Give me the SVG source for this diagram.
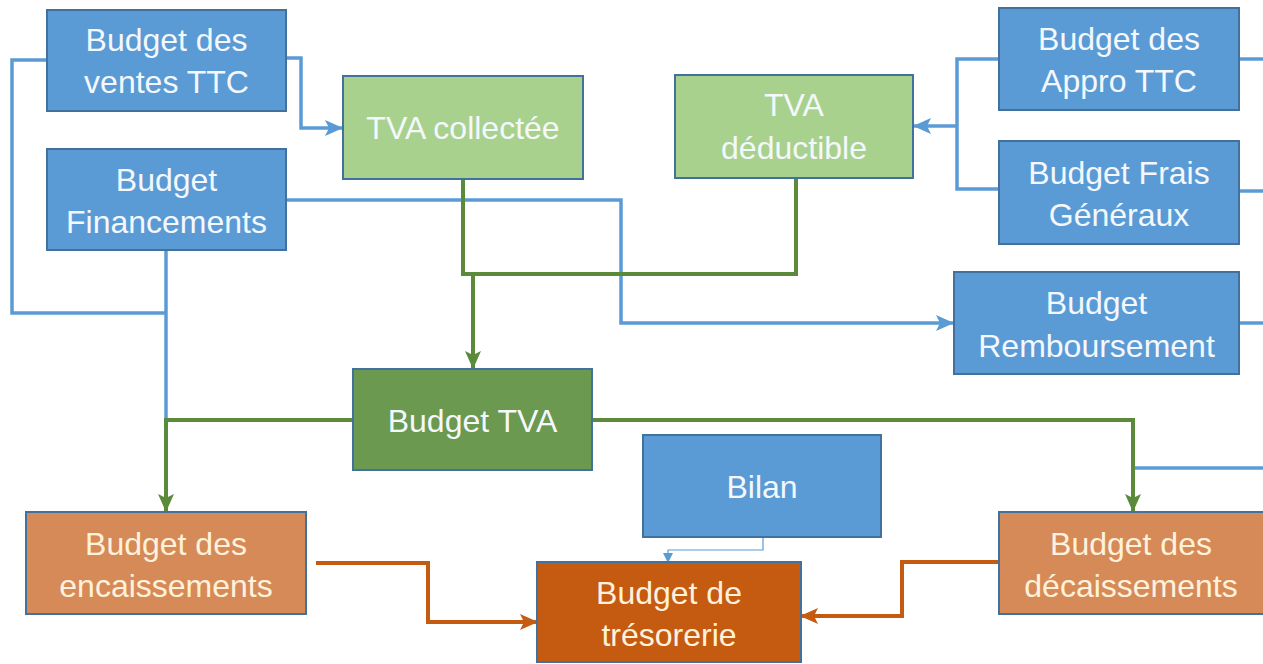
<svg xmlns="http://www.w3.org/2000/svg" width="1263" height="664" viewBox="0 0 1263 664">
  <defs>
    <style>
      .node rect { stroke: #41719C; stroke-width: 2; }
      .blue rect { fill: #5B9BD5; }
      .lgreen rect { fill: #A9D18E; }
      .dgreen rect { fill: #6A994F; }
      .lorange rect { fill: #D68A58; }
      .dorange rect { fill: #C55A11; }
      .node text { font-family: "Liberation Sans", Arial, sans-serif; font-size: 32px; text-anchor: middle; fill: #F4F8FC; }
      .lorange text, .dorange text { fill: #FFF2DC; }
      .c-blue { fill: none; stroke: #5B9BD5; stroke-width: 3.5; }
      .c-green { fill: none; stroke: #5A8A3A; stroke-width: 4; }
      .c-orange { fill: none; stroke: #C55A11; stroke-width: 4; }
      .c-thin { fill: none; stroke: #5B9BD5; stroke-width: 1.2; }
    </style>
    <marker id="ab" markerUnits="userSpaceOnUse" markerWidth="18" markerHeight="18" viewBox="0 0 18 18" refX="17" refY="9" orient="auto">
      <path d="M0,1 L18,9 L0,17 L4,9 Z" fill="#5B9BD5"/>
    </marker>
    <marker id="ag" markerUnits="userSpaceOnUse" markerWidth="18" markerHeight="18" viewBox="0 0 18 18" refX="17" refY="9" orient="auto">
      <path d="M0,1 L18,9 L0,17 L4,9 Z" fill="#5A8A3A"/>
    </marker>
    <marker id="ao" markerUnits="userSpaceOnUse" markerWidth="18" markerHeight="18" viewBox="0 0 18 18" refX="17" refY="9" orient="auto">
      <path d="M0,1 L18,9 L0,17 L4,9 Z" fill="#C55A11"/>
    </marker>
    <marker id="at" markerUnits="userSpaceOnUse" markerWidth="10" markerHeight="10" viewBox="0 0 10 10" refX="9" refY="5" orient="auto">
      <path d="M0,0 L10,5 L0,10 Z" fill="#5B9BD5"/>
    </marker>
  </defs>

  <rect width="1263" height="664" fill="#FFFFFF"/>

  <!-- connectors -->
  <g id="connectors">
    <!-- ventes TTC -> TVA collectée -->
    <path class="c-blue" d="M286,58 H301 V128 H342" marker-end="url(#ab)"/>
    <!-- ventes TTC -> left loop to financements drop -->
    <path class="c-blue" d="M47,60 H12 V313 H166"/>
    <!-- financements drop -->
    <path class="c-blue" d="M166,250 V420"/>
    <!-- financements -> remboursement -->
    <path class="c-blue" d="M286,200 H621 V323 H953" marker-end="url(#ab)"/>
    <!-- appro + frais -> TVA déductible -->
    <path class="c-blue" d="M999,59 H957 V189 H999"/>
    <path class="c-blue" d="M957,126 H914" marker-end="url(#ab)"/>
    <!-- right-side feeds running off the page -->
    <path class="c-blue" d="M1239,59 H1263"/>
    <path class="c-blue" d="M1239,191 H1263"/>
    <path class="c-blue" d="M1239,323 H1263"/>
    <path class="c-blue" d="M1263,468 H1133"/>
    <!-- bilan -> trésorerie -->
    <path class="c-thin" d="M763,537 V550 H668 V562" marker-end="url(#at)"/>

    <!-- TVA collectée + déductible -> budget TVA -->
    <path class="c-green" d="M463,179 V274 H796 V178"/>
    <path class="c-green" d="M473,274 V368" marker-end="url(#ag)"/>
    <!-- budget TVA -> encaissements / décaissements -->
    <path class="c-green" d="M353,420 H166 V511" marker-end="url(#ag)"/>
    <path class="c-green" d="M592,420 H1133 V511" marker-end="url(#ag)"/>

    <!-- encaissements / décaissements -> trésorerie -->
    <path class="c-orange" d="M316,563 H428 V622 H537" marker-end="url(#ao)"/>
    <path class="c-orange" d="M999,562 H902 V616 H801" marker-end="url(#ao)"/>
  </g>

  <!-- nodes -->
  <g id="ventes" class="node blue">
    <rect x="47" y="10" width="239" height="101"/>
    <text x="166.5" y="51">Budget des</text>
    <text x="166.5" y="93">ventes TTC</text>
  </g>
  <g id="financements" class="node blue">
    <rect x="47" y="149" width="239" height="101"/>
    <text x="166.5" y="191">Budget</text>
    <text x="166.5" y="233">Financements</text>
  </g>
  <g id="tva-collectee" class="node lgreen">
    <rect x="343" y="76" width="240" height="103"/>
    <text x="463" y="139">TVA collectée</text>
  </g>
  <g id="tva-deductible" class="node lgreen">
    <rect x="675" y="75" width="238" height="103"/>
    <text x="794" y="116">TVA</text>
    <text x="794" y="159">déductible</text>
  </g>
  <g id="appro" class="node blue">
    <rect x="999" y="8" width="240" height="102"/>
    <text x="1119" y="50">Budget des</text>
    <text x="1119" y="92">Appro TTC</text>
  </g>
  <g id="frais" class="node blue">
    <rect x="999" y="141" width="240" height="103"/>
    <text x="1119" y="184">Budget Frais</text>
    <text x="1119" y="226">Généraux</text>
  </g>
  <g id="remboursement" class="node blue">
    <rect x="954" y="272" width="285" height="102"/>
    <text x="1096.5" y="314">Budget</text>
    <text x="1096.5" y="357">Remboursement</text>
  </g>
  <g id="budget-tva" class="node dgreen">
    <rect x="353" y="369" width="239" height="101"/>
    <text x="472.5" y="432">Budget TVA</text>
  </g>
  <g id="bilan" class="node blue">
    <rect x="643" y="435" width="238" height="102"/>
    <text x="762" y="498">Bilan</text>
  </g>
  <g id="encaissements" class="node lorange">
    <rect x="26" y="512" width="280" height="102"/>
    <text x="166" y="555">Budget des</text>
    <text x="166" y="597">encaissements</text>
  </g>
  <g id="tresorerie" class="node dorange">
    <rect x="537" y="562" width="264" height="100"/>
    <text x="669" y="604">Budget de</text>
    <text x="669" y="646">trésorerie</text>
  </g>
  <g id="decaissements" class="node lorange">
    <rect x="999" y="512" width="270" height="102"/>
    <text x="1131" y="555">Budget des</text>
    <text x="1131" y="597">décaissements</text>
  </g>
</svg>
